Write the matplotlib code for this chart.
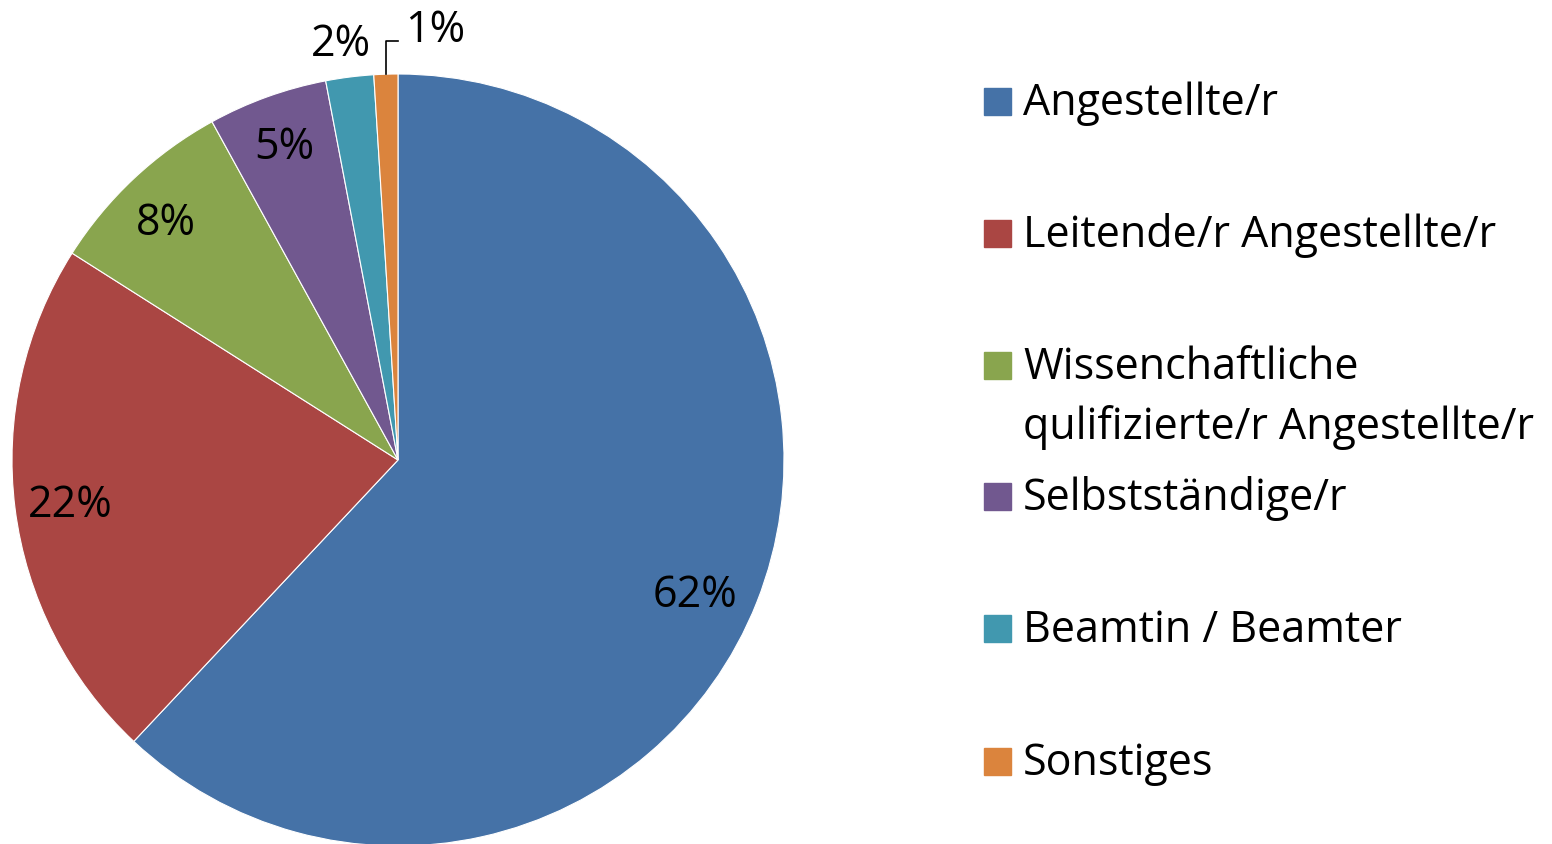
import numpy as np
import matplotlib.pyplot as plt
from matplotlib.patches import Rectangle

# Daten
kategorien = ["Angestellte/r", "Leitende/r Angestellte/r",
              "Wissenchaftliche\nqulifizierte/r Angestellte/r",
              "Selbstständige/r", "Beamtin / Beamter", "Sonstiges"]
anteile = [62, 22, 8, 5, 2, 1]
farben = ["#4572A7", "#AA4643", "#89A54E", "#71588F", "#4198AF", "#DB843D"]

plt.rcParams['font.family'] = ['Open Sans', 'DejaVu Sans']

W, H = 1552, 845
cx, cy, R = 398, 461, 386   # Mitte und Radius in Pixel
fs = 31

fig = plt.figure(figsize=(W / 100, H / 100), dpi=100)
ax = fig.add_axes([0, 0, 1, 1])
ax.pie(anteile, colors=farben, startangle=90, counterclock=False,
       wedgeprops=dict(edgecolor='white', linewidth=0.8))
ax.set_xlim(-cx / R, (W - cx) / R)
ax.set_ylim(-(H - cy) / R, cy / R)
ax.set_aspect('equal')
ax.axis('off')

# Prozent-Beschriftungen (Abstand vom Mittelpunkt, Winkelversatz)
abstand = [0.841, 0.857, 0.867, 0.873, 1.098, None]
versatz = [-2.2, 0.0, 0.7, 0.0, 0.5, 0.0]
halb = 15 / R   # halbe Ziffernhoehe
start = 90.0
for i, a in enumerate(anteile):
    mitte = np.deg2rad(start - a / sum(anteile) * 360 / 2 + versatz[i])
    start -= a / sum(anteile) * 360
    if abstand[i] is not None:
        ax.text(abstand[i] * np.cos(mitte), abstand[i] * np.sin(mitte) - halb, f"{a}%",
                ha='center', va='baseline', fontsize=fs)
    else:
        # Fuehrungslinie fuer den kleinsten Wert
        x0, y0 = np.cos(mitte), np.sin(mitte)
        yk = (cy - 42) / R
        xk = (398 - cx) / R
        ax.plot([x0, x0, xk], [y0, yk, yk], color='black', lw=1.2)
        ax.text(xk + 7 / R, (cy - 27) / R - halb, f"{a}%", ha='left', va='baseline', fontsize=fs)

# Legende
zeilen_y = [102.5, 234.5, 366.5, 497.5, 629.5, 762.5]
for lab, col, y in zip(kategorien, farben, zeilen_y):
    fig.patches.append(Rectangle((984 / W, 1 - (y + 13.5) / H), 27 / W, 27 / H,
                                 transform=fig.transFigure, color=col))
    for k, zeile in enumerate(lab.split('\n')):
        fig.text(1023 / W, 1 - (y + 13 + 60 * k) / H, zeile, ha='left', va='baseline',
                 fontsize=fs)

fig.savefig("out.png", dpi=100)
